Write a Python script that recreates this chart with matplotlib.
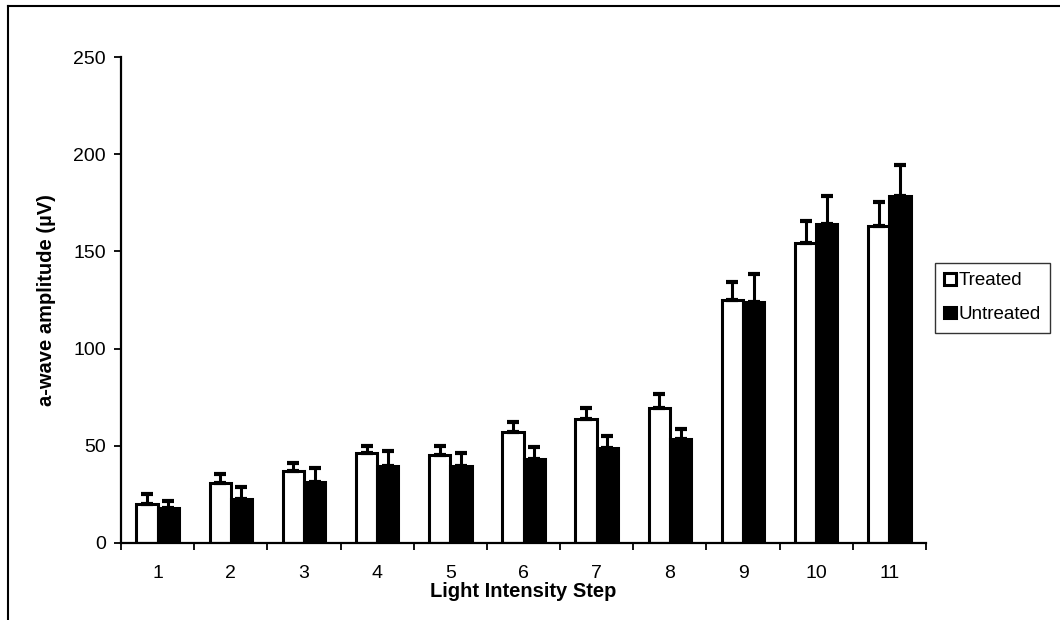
import numpy as np
import matplotlib
matplotlib.use("Agg")
import matplotlib.pyplot as plt
from matplotlib.lines import Line2D

plt.rcParams['font.family'] = ['Liberation Sans', 'DejaVu Sans']

# data
steps = ['1', '2', '3', '4', '5', '6', '7', '8', '9', '10', '11']
treated = [19.9, 31.0, 36.9, 46.3, 45.2, 57.1, 63.9, 69.4, 124.9, 154.4, 163.0]
treated_err = [5.1, 4.3, 4.1, 3.7, 4.5, 5.3, 5.7, 7.4, 9.4, 11.2, 12.5]
untreated = [18.0, 22.8, 31.5, 39.7, 39.6, 43.3, 48.8, 53.3, 123.9, 164.2, 178.4]
untreated_err = [3.7, 6.2, 7.2, 7.4, 6.5, 6.1, 6.4, 5.5, 14.3, 14.1, 16.3]
y_ticks = [0, 50, 100, 150, 200, 250]

fig = plt.figure(figsize=(10.6, 6.2), dpi=100)
ax = fig.add_axes([0.1142, 0.1242, 0.7594, 0.7838])

x = np.arange(len(steps))
w = 0.29
err_kw = dict(ecolor='black', elinewidth=2.2, capsize=4, capthick=3)
ax.bar(x - w / 2, treated, w, color='white', edgecolor='black', linewidth=2.2,
       yerr=[np.zeros(len(steps)), treated_err], error_kw=err_kw, label='Treated')
ax.bar(x + w / 2, untreated, w, color='black', edgecolor='black', linewidth=2.2,
       yerr=[np.zeros(len(steps)), untreated_err], error_kw=err_kw, label='Untreated')

ax.set_xlim(-0.5, len(steps) - 0.5)
ax.set_ylim(0, 250)
ax.set_yticks(y_ticks)
ax.set_xticks(x)
ax.set_xticklabels(steps)
ax.set_xticks(np.arange(len(steps) + 1) - 0.5, minor=True)
ax.tick_params(axis='x', which='major', length=0, pad=16, labelsize=14)
ax.tick_params(axis='x', which='minor', length=5, width=1.3, direction='out')
ax.tick_params(axis='y', length=5, width=1.3, direction='out', labelsize=14, pad=6)

for s in ['top', 'right']:
    ax.spines[s].set_visible(False)
for s in ['left', 'bottom']:
    ax.spines[s].set_linewidth(1.6)

ax.set_xlabel('Light Intensity Step', fontsize=14.5, fontweight='bold', labelpad=0)
ax.set_ylabel('a-wave amplitude (\u00b5V)', fontsize=14.5, fontweight='bold', labelpad=12)

leg = fig.legend(loc='upper left', bbox_to_anchor=(0.882, 0.576), frameon=True,
                 fancybox=False, edgecolor='black', fontsize=13.5,
                 handlelength=0.6, handleheight=0.6, handletextpad=0.15,
                 labelspacing=0.9, borderpad=0.5, borderaxespad=0)
leg.get_frame().set_linewidth(1.0)

# outer frame lines of the scanned figure (top and left only)
fig.add_artist(Line2D([0.0075, 1.0], [0.99, 0.99], transform=fig.transFigure,
                      color='black', linewidth=1.5))
fig.add_artist(Line2D([0.0075, 0.0075], [0.0, 0.99], transform=fig.transFigure,
                      color='black', linewidth=1.5))

fig.savefig('out.png', dpi=100)
